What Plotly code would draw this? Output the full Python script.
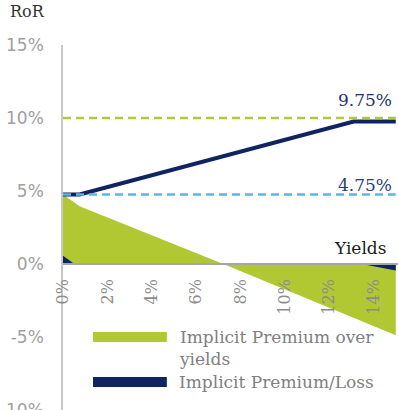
import plotly.graph_objects as go

# ---- data (percent) ----
premium_yields = [0, 0.75, 7.2, 15]
premium_over_yields = [4.75, 3.95, 0.0, -4.9]

loss_yields = [0, 0.5, 13.4, 15]
premium_loss = [0.55, 0.0, 0.0, -0.45]

ror_yields = [0, 0.75, 13.1, 15]
ror_values = [4.75, 4.75, 9.75, 9.75]

ref_yields = [0, 15]
ref_high = [10, 10]
ref_low = [4.75, 4.75]

x_tickvals = [0, 2, 4, 6, 8, 10, 12, 14]
x_ticktext = ["0%", "2%", "4%", "6%", "8%", "10%", "12%", "14%"]
y_tickvals = [-10, -5, 0, 5, 10, 15]
y_ticktext = ["-10%", "-5%", "0%", "5%", "10%", "15%"]

legend_names = ["Implicit Premium over<br>yields", "Implicit Premium/Loss"]

GREEN = "#b2c833"
NAVY = "#0f2461"
LBLUE = "#62b3e3"
GREEN_DASH = "#b0c93a"

fig = go.Figure()
fig.add_trace(go.Scatter(x=premium_yields, y=premium_over_yields, mode="lines",
                         line=dict(width=0, color=GREEN), fill="tozeroy",
                         fillcolor=GREEN, showlegend=False))
fig.add_trace(go.Scatter(x=loss_yields, y=premium_loss, mode="lines",
                         line=dict(width=0, color=NAVY), fill="tozeroy",
                         fillcolor=NAVY, showlegend=False))
fig.add_trace(go.Scatter(x=ror_yields, y=ror_values, mode="lines",
                         line=dict(width=4, color=NAVY), showlegend=False))
fig.add_trace(go.Scatter(x=ref_yields, y=ref_low, mode="lines",
                         line=dict(width=2.5, color=LBLUE, dash="8px,5px"), showlegend=False))
fig.add_trace(go.Scatter(x=ref_yields, y=ref_high, mode="lines",
                         line=dict(width=2.5, color=GREEN_DASH, dash="8px,5px"), showlegend=False))

serif = "DejaVu Serif"
annotations = [
    dict(x=13.6, y=11.2, xref="x", yref="y", text="9.75%", showarrow=False,
         font=dict(family=serif, size=17, color="#1f3469"), xanchor="center", yanchor="middle"),
    dict(x=13.6, y=5.4, xref="x", yref="y", text="4.75%", showarrow=False,
         font=dict(family=serif, size=17, color="#2a4173"), xanchor="center", yanchor="middle"),
    dict(x=13.4, y=1.1, xref="x", yref="y", text="Yields", showarrow=False,
         font=dict(family=serif, size=17, color="#1a1a1a"), xanchor="center", yanchor="middle"),
    dict(x=-0.107, y=1.093, xref="paper", yref="paper", text="RoR", showarrow=False,
         font=dict(family=serif, size=16, color="#333333"), xanchor="center", yanchor="middle"),
    dict(x=0.34, y=0.2, xref="paper", yref="paper", text=legend_names[0], showarrow=False,
         font=dict(family=serif, size=17, color="#808080"), xanchor="left", yanchor="top",
         align="left", yshift=12),
    dict(x=0.34, y=0.077, xref="paper", yref="paper", text=legend_names[1], showarrow=False,
         font=dict(family=serif, size=17, color="#808080"), xanchor="left", yanchor="middle",
         align="left"),
]

shapes = [
    dict(type="rect", xref="paper", yref="paper", x0=0.0896, x1=0.31, y0=0.1863, y1=0.2137,
         fillcolor=GREEN, line=dict(width=0)),
    dict(type="rect", xref="paper", yref="paper", x0=0.0896, x1=0.31, y0=0.063, y1=0.0904,
         fillcolor=NAVY, line=dict(width=0)),
]

fig.update_layout(
    width=398, height=410,
    margin=dict(l=63, r=0, t=45, b=0),
    plot_bgcolor="white", paper_bgcolor="white",
    showlegend=False,
    annotations=annotations,
    shapes=shapes,
    xaxis=dict(range=[0, 15.1], anchor="free", position=0.4, showgrid=False, zeroline=False,
               showline=True, linecolor="#a6a6a6", linewidth=1.5, automargin=False,
               tickvals=x_tickvals, ticktext=x_ticktext, tickangle=-90, ticks="",
               ticklabelstandoff=8,
               tickfont=dict(family=serif, size=16, color="#8c8c8c")),
    yaxis=dict(range=[-10.02, 15], showgrid=False, zeroline=False, automargin=False,
               showline=True, linecolor="#c8c8c8", linewidth=1.5,
               tickvals=y_tickvals, ticktext=y_ticktext, ticks="",
               ticklabelstandoff=14, ticklabeloverflow="allow",
               tickfont=dict(family="DejaVu Sans", size=17, color="#a0a0a0")),
)

fig.write_html("out.html")
